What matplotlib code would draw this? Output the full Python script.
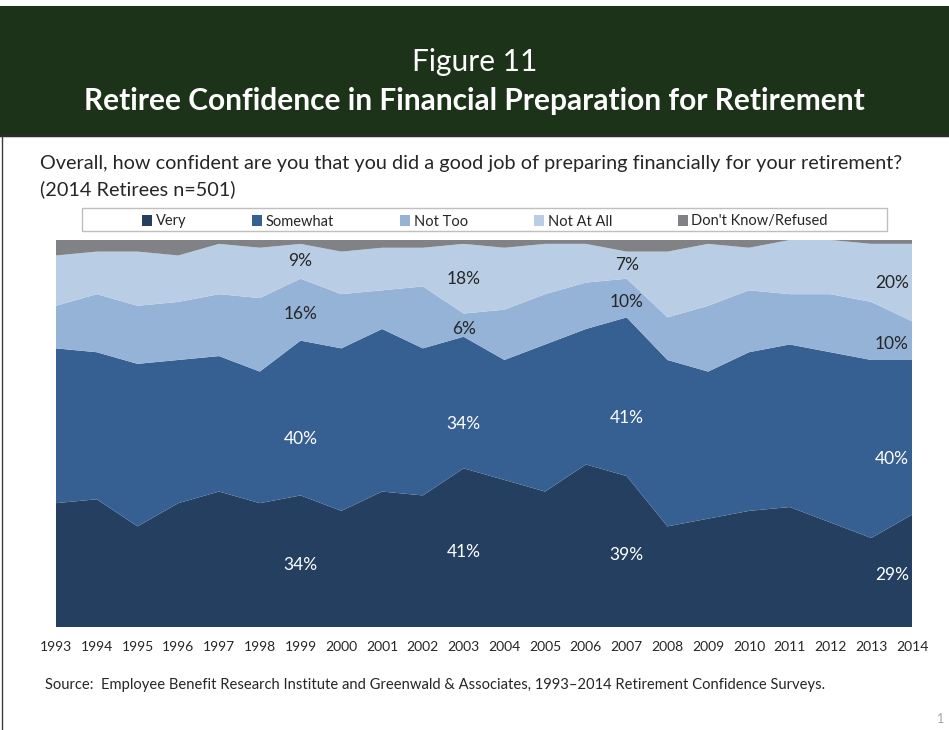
import matplotlib
matplotlib.use("Agg")
import matplotlib.pyplot as plt
from matplotlib.patches import Patch, Rectangle
from matplotlib.lines import Line2D
import numpy as np

plt.rcParams['font.family'] = ['Lato', 'DejaVu Sans']

# survey years and answer shares (%)
years = list(range(1993, 2015))
very = [32, 33, 26, 32, 35, 32, 34, 30, 35, 34, 41, 38, 35, 42, 39, 26, 28, 30, 31, 27, 23, 29]
somewhat = [40, 38, 42, 37, 35, 34, 40, 42, 42, 38, 34, 31, 38, 35, 41, 43, 38, 41, 42, 44, 46, 40]
not_too = [11, 15, 15, 15, 16, 19, 16, 14, 10, 16, 6, 13, 13, 12, 10, 11, 17, 16, 13, 15, 15, 10]
not_at_all = [13, 11, 14, 12, 13, 13, 9, 11, 11, 10, 18, 16, 13, 10, 7, 17, 16, 11, 14, 14, 15, 20]
dont_know = [4, 3, 3, 4, 1, 2, 1, 3, 2, 2, 1, 2, 1, 1, 3, 3, 1, 2, 0, 0, 1, 1]

series_names = ["Very", "Somewhat", "Not Too", "Not At All", "Don't Know/Refused"]
labelled_years = [1999, 2003, 2007, 2014]

colors = ["#243f60", "#366092", "#95b3d7", "#b9cde5", "#808285"]
label_colors = ["white", "white", "#262626", "#262626"]
label_shift = [-1, -5.5, -1, 0]   # nudge labels like Excel does

W, H = 949, 730
fig = plt.figure(figsize=(W / 100, H / 100), dpi=100)

def fx(px):
    return px / W

def fy(py):
    return 1 - py / H

# green title banner
fig.patches.append(Rectangle((0, fy(136)), 1, fy(6) - fy(136), transform=fig.transFigure,
                             facecolor="#1c3319", edgecolor="none", zorder=0))
fig.lines.append(Line2D([0, 1], [fy(135), fy(135)], transform=fig.transFigure,
                        color="#2b2b2b", lw=2.5))
fig.lines.append(Line2D([fx(1.5), fx(1.5)], [fy(136), 0], transform=fig.transFigure,
                        color="#3a3a3a", lw=1))
fig.text(0.5, fy(62), "Figure 11", color="white", fontsize=21.5, ha="center", va="center")
fig.text(0.5, fy(101), "Retiree Confidence in Financial Preparation for Retirement",
         color="white", fontsize=21.5, fontweight="bold", ha="center", va="center")

fig.text(fx(40), fy(163), "Overall, how confident are you that you did a good job of preparing "
         "financially for your retirement?", fontsize=14.3, color="#262626", va="center")
fig.text(fx(40), fy(189), "(2014 Retirees n=501)", fontsize=14.3, color="#262626", va="center")

# chart
ax = fig.add_axes([fx(56), fy(627), fx(912) - fx(56), fy(240) - fy(627)])
stack = [very, somewhat, not_too, not_at_all, dont_know]
ax.stackplot(years, *stack, colors=colors, linewidth=0)
ax.set_xlim(1993, 2014)
ax.set_ylim(0, 100)
ax.set_yticks([])
ax.set_xticks(years)
ax.set_xticklabels([str(y) for y in years], fontsize=10, color="#262626")
ax.tick_params(axis="x", length=0, pad=10)
for s in ax.spines.values():
    s.set_visible(False)

# data labels
cum = np.cumsum(np.array(stack), axis=0)
for yr in labelled_years:
    i = years.index(yr)
    for k in range(4):
        val = stack[k][i]
        base = cum[k][i] - val
        ypos = base + val / 2 + label_shift[k]
        if yr == years[-1]:
            ax.text(yr - 0.08, ypos, f"{val}%", ha="right", va="center",
                    fontsize=12.5, color=label_colors[k])
        else:
            ax.text(yr, ypos, f"{val}%", ha="center", va="center",
                    fontsize=12.5, color=label_colors[k])

# legend box
fig.patches.append(Rectangle((fx(82), fy(231)), fx(887) - fx(82), fy(208) - fy(231),
                             transform=fig.transFigure, facecolor="white",
                             edgecolor="#bfbfbf", lw=1, zorder=1))
handles = [Patch(facecolor=c, edgecolor="none") for c in colors]
fig.legend(handles, series_names, ncol=5, mode="expand", frameon=False,
           loc="center", bbox_to_anchor=(fx(142), fy(233), fx(828) - fx(142), fy(208) - fy(231)),
           fontsize=10.5, handlelength=0.7, handleheight=0.7, handletextpad=0.25,
           borderpad=0, borderaxespad=0, labelcolor="#262626")

fig.text(fx(45), fy(685), "Source:  Employee Benefit Research Institute and Greenwald & Associates, "
         "1993\u20132014 Retirement Confidence Surveys.", fontsize=10.6, color="#262626", va="center")
fig.text(fx(944), fy(719), "1", fontsize=9, color="#a6a6a6", ha="right", va="center")

fig.savefig("out.png", dpi=100)
